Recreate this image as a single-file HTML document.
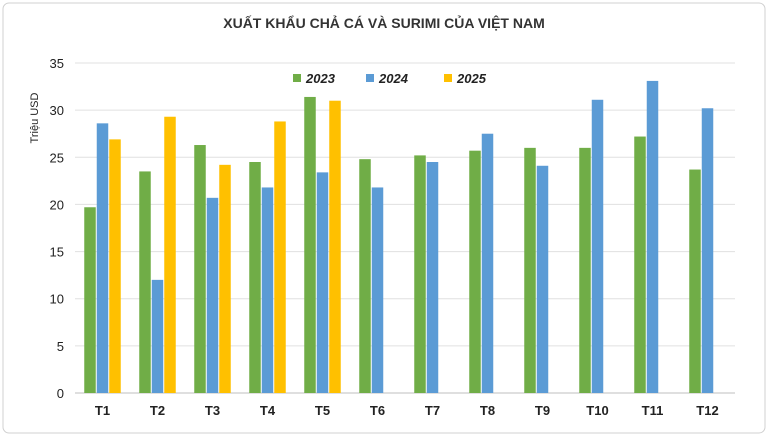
<!DOCTYPE html>
<html><head><meta charset="utf-8">
<style>
html,body{margin:0;padding:0;background:#fff;}
svg{display:block;font-family:"Liberation Sans",sans-serif;}
</style></head>
<body>
<svg id="chart" width="768" height="436" viewBox="0 0 768 436">
<rect x="3" y="3" width="762" height="430" rx="6" fill="#fff" stroke="#d0d0d0"/>
<text x="384" y="28" text-anchor="middle" font-size="14" font-weight="bold" fill="#333">XUẤT KHẨU CHẢ CÁ VÀ SURIMI CỦA VIỆT NAM</text>
<text transform="translate(38,118) rotate(-90)" text-anchor="middle" font-size="11" fill="#222">Triệu USD</text>
<g id="grid"></g><g id="bars"></g><g id="axes"></g><g id="legend"></g>
</svg>
<script>
const categories=["T1","T2","T3","T4","T5","T6","T7","T8","T9","T10","T11","T12"];
const values2023=[19.7,23.5,26.3,24.5,31.4,24.8,25.2,25.7,26.0,26.0,27.2,23.7];
const values2024=[28.6,12.0,20.7,21.8,23.4,21.8,24.5,27.5,24.1,31.1,33.1,30.2];
const values2025=[26.9,29.3,24.2,28.8,31.0,null,null,null,null,null,null,null];
const yTicks=[0,5,10,15,20,25,30,35];
const seriesNames=["2023","2024","2025"];
const colors=["#70ad47","#5b9bd5","#ffc000"];
const NS="http://www.w3.org/2000/svg";
const L=75,R=735,T0=63,B=393,yMax=35;
const y=v=>B-(v/yMax)*(B-T0);
const bw=(R-L)/categories.length;
const x=i=>L+bw*(i+0.5);
function mk(tag,attrs,parent){const e=document.createElementNS(NS,tag);for(const k in attrs)e.setAttribute(k,attrs[k]);parent.appendChild(e);return e;}
const grid=document.getElementById('grid'),bars=document.getElementById('bars'),axes=document.getElementById('axes'),legend=document.getElementById('legend');
yTicks.forEach(t=>{
 const l=mk('line',{x1:L,x2:R,y1:y(t),y2:y(t),stroke:t===0?'#bfbfbf':'#e0e0e0','stroke-width':1},grid);
 
 
 const tx=mk('text',{x:L-11,y:y(t)+5,'text-anchor':'end','font-size':13,fill:'#222'},axes);
 tx.textContent=t;
 
 
});
const all=[values2023,values2024,values2025];
const barW=11.5,gap=1;
categories.forEach((c,i)=>{
 all.forEach((arr,s)=>{
  const v=arr[i]; if(v==null) return;
  const bx=x(i)+(s-1)*(barW+gap)-barW/2;
  const r=mk('rect',{x:bx,y:y(v),width:barW,height:B-y(v),fill:colors[s]},bars);
  
  
 });
 const tx=mk('text',{x:x(i),y:B+22,'text-anchor':'middle','font-size':13,'font-weight':'bold',fill:'#222'},axes);
 tx.textContent=c;
 
 
});
const lx=[293,366,444];
seriesNames.forEach((n,s)=>{
 const g=mk('g',{},legend);
 
 
 mk('rect',{x:lx[s],y:74,width:8,height:8,fill:colors[s]},g);
 const t=mk('text',{x:lx[s]+13,y:83,'font-size':13,'font-weight':'bold','font-style':'italic',fill:'#222'},g);
 t.textContent=n;
});
</script>
</body></html>
